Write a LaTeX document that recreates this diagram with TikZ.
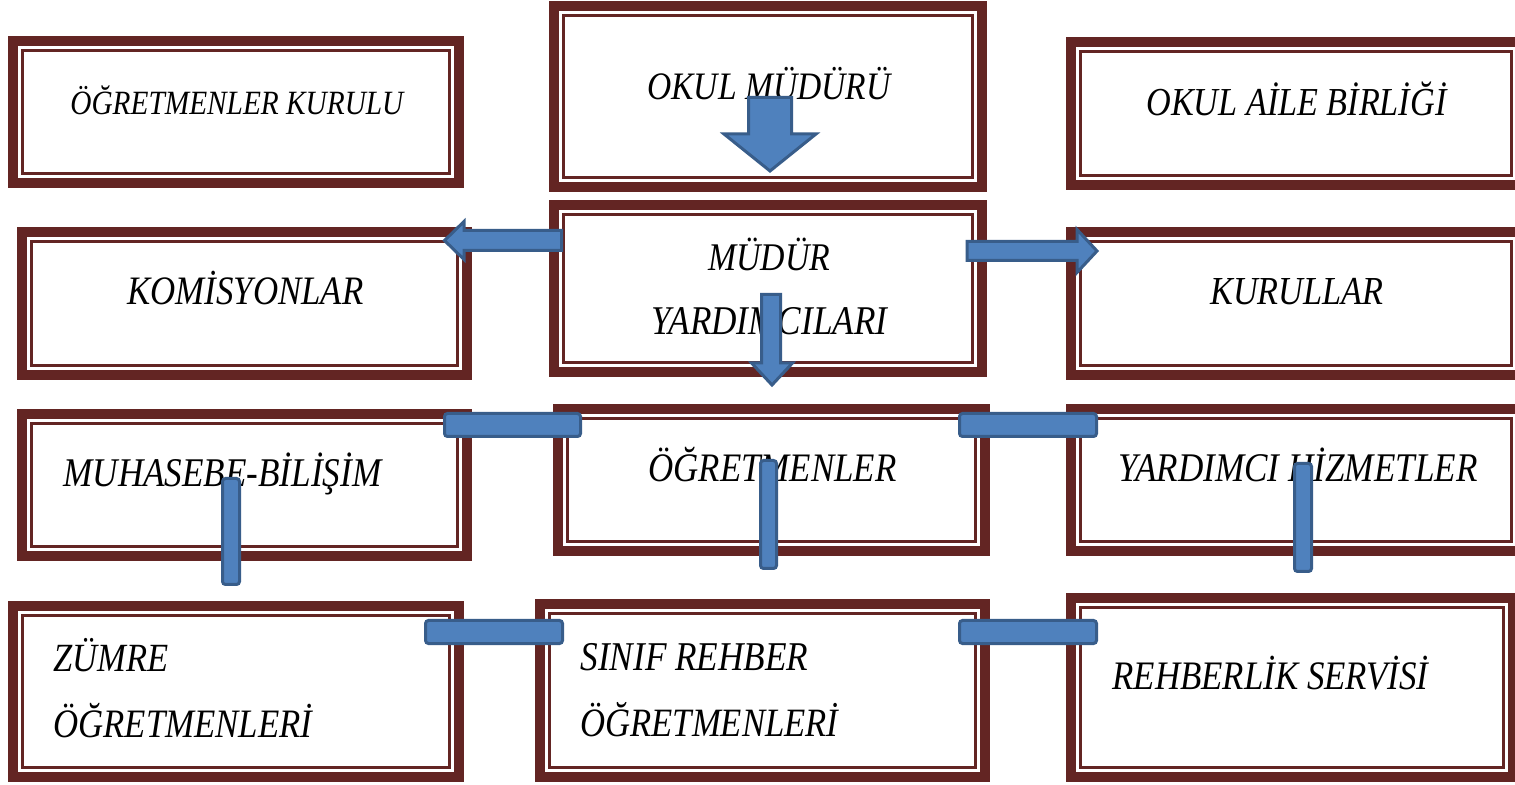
\documentclass[tikz,border=0pt]{standalone}
\usepackage{graphicx}
\usepackage{fontspec}
\setmainfont{Liberation Serif}
\usetikzlibrary{fit}
\definecolor{boxred}{HTML}{632523}
\definecolor{bfill}{HTML}{4F81BD}
\definecolor{bline}{HTML}{385D8A}
\newcommand\fw[2]{\resizebox{#1}{!}{\scalebox{1}[1.16]{\itshape #2}}}
\newcommand\obox[5]{%
  \coordinate (#1-a) at (#2+5,#3+5);
  \coordinate (#1-b) at (#4-5,#5-5);
  \node[bx, fit=(#1-a)(#1-b)] (#1) {};}
\tikzset{
  bx/.style={draw=boxred, line width=5pt, inner sep=0pt, fill=white,
    path picture={\draw[boxred, line width=1.5pt]
      ([shift={(4.75pt,-4.75pt)}]path picture bounding box.north west) rectangle
      ([shift={(-4.75pt,4.75pt)}]path picture bounding box.south east);}},
  tx/.style={anchor=base west, inner sep=0pt, text=black},
  bshape/.style={fill=bfill, draw=bline, line width=1.5pt, line join=miter},
  bar/.style={bshape, rounded corners=1.5pt},
}
\begin{document}
\begin{tikzpicture}[x=0.5pt, y=-0.5pt]
\useasboundingbox[fill=white] (0,0) rectangle (1515,785);
% boxes
\obox{kurulu}{8}{36}{464}{188}
\obox{mudur}{549}{1}{987}{192}
\obox{aile}{1066}{37}{1526}{190}
\obox{komis}{17}{227}{472}{380}
\obox{yard}{549}{200}{987}{377}
\obox{kurul}{1066}{227}{1526}{380}
\obox{muhas}{17}{409}{472}{561}
\obox{ogret}{553}{404}{990}{556}
\obox{yhiz}{1066}{404}{1526}{556}
\obox{zumre}{8}{601}{464}{782}
\obox{sinif}{535}{599}{990}{782}
\obox{rehb}{1066}{593}{1518}{782}
% texts
\node[tx] (t1) at (70,115) {\fw{166.5pt}{ÖĞRETMENLER KURULU}};
\node[tx] (t2) at (647,100) {\fw{121.5pt}{OKUL MÜDÜRÜ}};
\node[tx] (t3) at (1146,116) {\fw{150pt}{OKUL AİLE BİRLİĞİ}};
\node[tx] (t4) at (127,305) {\fw{118pt}{KOMİSYONLAR}};
\node[tx] (t5) at (708,271) {\fw{61pt}{MÜDÜR}};
\node[tx] (t6) at (651,335) {\fw{118pt}{YARDIMCILARI}};
\node[tx] (t7) at (1210,305) {\fw{86.5pt}{KURULLAR}};
\node[tx] (t8) at (63,487) {\fw{159pt}{MUHASEBE-BİLİŞİM}};
\node[tx] (t9) at (648,482) {\fw{124pt}{ÖĞRETMENLER}};
\node[tx] (t10) at (1118,482) {\fw{179.5pt}{YARDIMCI HİZMETLER}};
\node[tx] (t11) at (53,672) {\fw{57.5pt}{ZÜMRE}};
\node[tx] (t12) at (53,737) {\fw{129.5pt}{ÖĞRETMENLERİ}};
\node[tx] (t13) at (580,670) {\fw{114pt}{SINIF REHBER}};
\node[tx] (t14) at (580,736) {\fw{129pt}{ÖĞRETMENLERİ}};
\node[tx] (t15) at (1112,689) {\fw{158pt}{REHBERLİK SERVİSİ}};
% arrows
\draw[bshape] (748.5,97.5) -- (791.5,97.5) -- (791.5,134) -- (816,134) -- (770,171) -- (724,134) -- (748.5,134) -- cycle;
\draw[bshape] (561.5,230.5) -- (464,230.5) -- (464,221.5) -- (444.5,240.5) -- (464,259.5) -- (464,250.5) -- (561.5,250.5) -- cycle;
\draw[bshape] (967,241.5) -- (1077,241.5) -- (1077,229.5) -- (1097,251) -- (1077,272.5) -- (1077,260.5) -- (967,260.5) -- cycle;
\draw[bshape] (761.5,294.5) -- (780.5,294.5) -- (780.5,363) -- (792.5,363) -- (772,385) -- (751.5,363) -- (761.5,363) -- cycle;
% bars
\draw[bar] (444.5,413.5) rectangle (580.5,436.5);
\draw[bar] (959.5,413.5) rectangle (1096.5,436.5);
\draw[bar] (222.5,478.5) rectangle (239.5,584.5);
\draw[bar] (760.5,460.5) rectangle (776.5,568.5);
\draw[bar] (1294.5,463.5) rectangle (1311.5,571.5);
\draw[bar] (425.5,620.5) rectangle (562.5,643.5);
\draw[bar] (959.5,620.5) rectangle (1096.5,643.5);
\end{tikzpicture}
\end{document}
